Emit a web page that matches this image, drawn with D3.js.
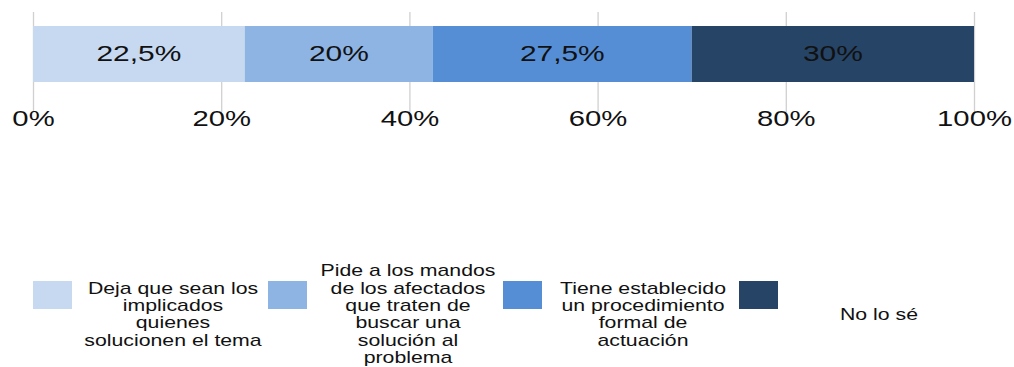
<!DOCTYPE html>
<html>
<head>
<meta charset="utf-8">
<script src="https://cdn.jsdelivr.net/npm/d3@7"></script>
<style>
  html, body { margin: 0; padding: 0; background: #fff; }
  svg { display: block; }
  text { font-family: "Liberation Sans", Arial, sans-serif; fill: #111; }
</style>
</head>
<body>
<svg id="chart" width="1014" height="367"></svg>
<script>
// Response shares (percent) for each answer category
const categories = [
  "Deja que sean los implicados quienes solucionen el tema",
  "Pide a los mandos de los afectados que traten de buscar una solución al problema",
  "Tiene establecido un procedimiento formal de actuación",
  "No lo sé"
];
const values = [22.5, 20, 27.5, 30];
const valueLabels = ["22,5%", "20%", "27,5%", "30%"];
const colors = ["#c6d9f1", "#8eb4e3", "#558ed5", "#264466"];
const tickValues = [0, 20, 40, 60, 80, 100];
const tickLabels = ["0%", "20%", "40%", "60%", "80%", "100%"];
// Legend captions, broken into lines as displayed
const legendLines = [
  ["Deja que sean los", "implicados", "quienes", "solucionen el tema"],
  ["Pide a los mandos", "de los afectados", "que traten de", "buscar una", "solución al", "problema"],
  ["Tiene establecido", "un procedimiento", "formal de", "actuación"],
  ["No lo sé"]
];

const svg = d3.select("#chart");
const stretch = "scale(1.36,1)";
const legendStretch = "scale(1.33,1)";

const x = d3.scaleLinear().domain([0, 100]).range([33, 974]);
const barTop = 26, barH = 56;

// Gridlines and percentage tick labels
const axis = d3.axisBottom(x)
  .tickValues(tickValues)
  .tickFormat((d, i) => tickLabels[i])
  .tickSizeInner(-100)
  .tickSizeOuter(0)
  .tickPadding(0);

const gAxis = svg.append("g")
  .attr("transform", "translate(0,112)")
  .call(axis);
gAxis.select(".domain").remove();
gAxis.selectAll(".tick line").attr("stroke", "#d0d0d0").attr("stroke-width", 1.3);
gAxis.selectAll(".tick text")
  .attr("y", 14)
  .attr("dy", 0)
  .attr("font-size", 21.5)
  .attr("fill", "#111")
  .attr("font-family", "Liberation Sans, Arial, sans-serif")
  .attr("transform", stretch);

// Stacked 100% bar
let acc = 0;
const segs = values.map((v, i) => {
  const s = { start: acc, end: acc + v, i };
  acc += v;
  return s;
});

const gBar = svg.append("g");
gBar.selectAll("rect")
  .data(segs)
  .join("rect")
  .attr("x", d => x(d.start))
  .attr("y", barTop)
  .attr("width", d => x(d.end) - x(d.start))
  .attr("height", barH)
  .attr("fill", d => colors[d.i]);

gBar.selectAll("g.lbl")
  .data(segs)
  .join("g")
  .attr("class", "lbl")
  .attr("transform", d => `translate(${(x(d.start) + x(d.end)) / 2},61)`)
  .append("text")
  .attr("text-anchor", "middle")
  .attr("font-size", 22)
  .attr("transform", stretch)
  .text(d => valueLabels[d.i]);

// Legend
const legendX = [33, 268, 503, 739];
const lineH = 17.4, centerY = 314;
const gLeg = svg.append("g");
categories.forEach((c, i) => {
  const g = gLeg.append("g").attr("transform", `translate(${legendX[i]},0)`);
  g.append("rect")
    .attr("x", 0).attr("y", 281)
    .attr("width", 39).attr("height", 28)
    .attr("fill", colors[i]);
  const lines = legendLines[i];
  const y0 = centerY - (lines.length - 1) * lineH / 2 + 5.7;
  lines.forEach((ln, k) => {
    g.append("g")
      .attr("transform", `translate(140,${y0 + k * lineH})`)
      .append("text")
      .attr("text-anchor", "middle")
      .attr("font-size", 16)
      .attr("transform", legendStretch)
      .text(ln);
  });
});
</script>
</body>
</html>
